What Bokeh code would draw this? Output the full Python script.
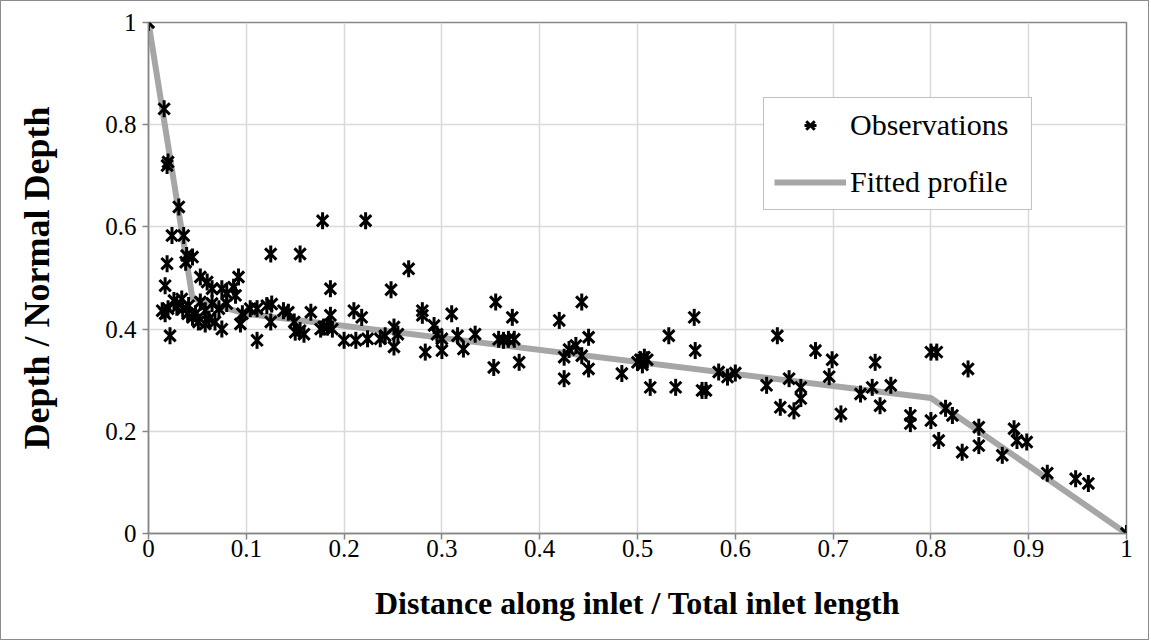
import math
from bokeh.plotting import figure
from bokeh.models import FixedTicker, CustomJSTickFormatter, Legend, LegendItem, Range1d
from bokeh.embed import file_html
from bokeh.resources import INLINE

obs_x = [0.0, 0.016, 0.019, 0.02, 0.031, 0.024, 0.036, 0.019, 0.039, 0.045, 0.038, 0.017,
         0.014, 0.017, 0.02, 0.022, 0.026, 0.034, 0.029, 0.041, 0.04, 0.035, 0.053, 0.06,
         0.065, 0.075, 0.08, 0.092, 0.087, 0.089, 0.048, 0.051, 0.062, 0.068, 0.075, 0.053,
         0.045, 0.058, 0.072, 0.096, 0.094, 0.104, 0.058, 0.065, 0.08, 0.111, 0.121, 0.126,
         0.111, 0.125, 0.125, 0.155, 0.138, 0.143, 0.149, 0.15, 0.155, 0.159, 0.166, 0.176,
         0.178, 0.222, 0.183, 0.186, 0.188, 0.186, 0.179, 0.2, 0.21, 0.212, 0.218, 0.224,
         0.237, 0.242, 0.248, 0.251, 0.251, 0.255, 0.266, 0.28, 0.28, 0.283, 0.292, 0.295,
         0.3, 0.3, 0.31, 0.316, 0.322, 0.334, 0.355, 0.353, 0.358, 0.363, 0.368, 0.374,
         0.372, 0.379, 0.42, 0.425, 0.425, 0.43, 0.437, 0.443, 0.443, 0.45, 0.45, 0.484,
         0.5, 0.503, 0.507, 0.51, 0.505, 0.513, 0.532, 0.539, 0.558, 0.559, 0.566, 0.57,
         0.583, 0.592, 0.6, 0.632, 0.643, 0.646, 0.655, 0.66, 0.667, 0.667, 0.682, 0.699,
         0.696, 0.708, 0.728, 0.74, 0.743, 0.748, 0.759, 0.779, 0.779, 0.8, 0.806, 0.8,
         0.815, 0.822, 0.808, 0.838, 0.832, 0.849, 0.849, 0.873, 0.885, 0.888, 0.898, 0.919,
         0.948, 0.961, 1.0]
obs_y = [1.0, 0.831, 0.72, 0.727, 0.639, 0.583, 0.583, 0.528, 0.544, 0.541, 0.531, 0.485,
         0.436, 0.43, 0.44, 0.387, 0.456, 0.459, 0.443, 0.446, 0.43, 0.44, 0.502, 0.492,
         0.479, 0.479, 0.47, 0.502, 0.482, 0.466, 0.43, 0.414, 0.42, 0.414, 0.4, 0.453,
         0.423, 0.436, 0.44, 0.43, 0.41, 0.44, 0.41, 0.45, 0.45, 0.44, 0.446, 0.449,
         0.378, 0.414, 0.547, 0.547, 0.436, 0.433, 0.414, 0.394, 0.397, 0.39, 0.433, 0.4,
         0.612, 0.612, 0.404, 0.427, 0.4, 0.479, 0.404, 0.378, 0.436, 0.378, 0.423, 0.381,
         0.381, 0.387, 0.477, 0.404, 0.365, 0.39, 0.518, 0.436, 0.427, 0.355, 0.407, 0.39,
         0.381, 0.358, 0.43, 0.387, 0.361, 0.39, 0.453, 0.325, 0.38, 0.378, 0.38, 0.38,
         0.423, 0.335, 0.417, 0.303, 0.345, 0.36, 0.368, 0.348, 0.453, 0.384, 0.322, 0.313,
         0.335, 0.34, 0.345, 0.34, 0.33, 0.286, 0.387, 0.286, 0.423, 0.358, 0.28, 0.28,
         0.316, 0.306, 0.314, 0.29, 0.387, 0.247, 0.303, 0.24, 0.286, 0.264, 0.358, 0.34,
         0.307, 0.234, 0.273, 0.286, 0.335, 0.25, 0.29, 0.231, 0.215, 0.355, 0.355, 0.221,
         0.245, 0.231, 0.182, 0.322, 0.159, 0.208, 0.172, 0.153, 0.205, 0.182, 0.179, 0.118,
         0.107, 0.098, 0.0]

fit_x = [0.0, 0.045, 0.1, 0.8, 1.0]
fit_y = [1.0, 0.46, 0.43, 0.265, 0.0]

x_ticks = [0, 0.1, 0.2, 0.3, 0.4, 0.5, 0.6, 0.7, 0.8, 0.9, 1]
y_ticks = [0, 0.2, 0.4, 0.6, 0.8, 1]

FONT = "'Liberation Serif', 'Times New Roman', serif"

p = figure(width=1149, height=640, output_backend="svg", toolbar_location=None,
           x_range=Range1d(0, 1), y_range=Range1d(0, 1),
           min_border_left=147, min_border_right=24, min_border_top=21, min_border_bottom=108)
p.styles = {"border": "1px solid #8c8c8c"}

fit = p.line(fit_x, fit_y, line_color="#a6a6a6", line_width=6)
obs_x_mark = p.scatter(obs_x, obs_y, marker="x", size=16, line_color="black", line_width=3)
obs_v_mark = p.scatter(obs_x, obs_y, marker="dash", size=17, angle=math.pi / 2,
                       line_color="black", line_width=3)

fmt = CustomJSTickFormatter(code="return String(Number(tick.toFixed(1)));")
for ax, ticks in ((p.xaxis[0], x_ticks), (p.yaxis[0], y_ticks)):
    ax.ticker = FixedTicker(ticks=ticks)
    ax.formatter = fmt
    ax.axis_line_color = "#868686"
    ax.axis_line_width = 1.5
    ax.major_tick_line_color = "#868686"
    ax.major_tick_line_width = 1.5
    ax.major_tick_in = 0
    ax.major_tick_out = 6
    ax.minor_tick_line_color = None
    ax.major_label_text_font = FONT
    ax.major_label_text_font_size = "25px"
    ax.major_label_text_color = "black"
    ax.axis_label_text_font = FONT
    ax.axis_label_text_font_style = "bold"
    ax.axis_label_text_color = "black"

p.xaxis.axis_label = "Distance along inlet / Total inlet length"
p.xaxis.axis_label_text_font_size = "32px"
p.xaxis.axis_label_standoff = 25
p.xaxis.major_label_standoff = 0
p.yaxis.axis_label = "Depth / Normal Depth"
p.yaxis.axis_label_text_font_size = "36px"
p.yaxis.axis_label_standoff = 45
p.yaxis.major_label_standoff = 6

p.xgrid.ticker = FixedTicker(ticks=x_ticks)
p.ygrid.ticker = FixedTicker(ticks=y_ticks)
p.grid.grid_line_color = "#d9d9d9"
p.grid.grid_line_width = 1.5
p.outline_line_color = "#868686"
p.outline_line_width = 1.5

legend = Legend(items=[LegendItem(label="Observations", renderers=[obs_x_mark, obs_v_mark]),
                       LegendItem(label="Fitted profile", renderers=[fit])],
                location=(615, 323))
legend.label_text_font = FONT
legend.label_text_font_size = "30px"
legend.label_text_color = "black"
legend.label_standoff = 4
legend.glyph_width = 72
legend.glyph_height = 30
legend.label_height = 30
legend.label_width = 171
legend.spacing = 23
legend.padding = 10
legend.margin = 0
legend.border_line_color = "#868686"
legend.border_line_width = 1.5
p.add_layout(legend)

open("out.html", "w").write(file_html(p, INLINE))
